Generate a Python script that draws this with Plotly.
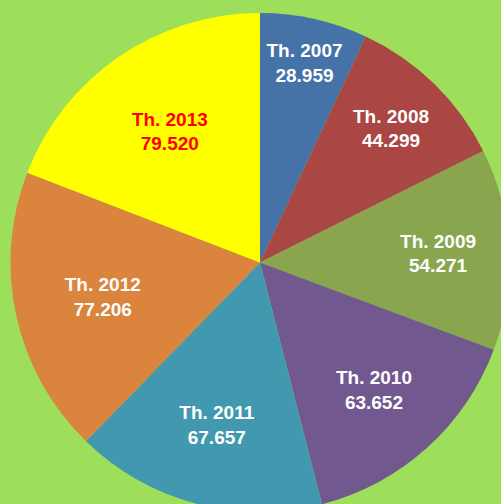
import plotly.graph_objects as go

years = ["Th. 2007", "Th. 2008", "Th. 2009", "Th. 2010", "Th. 2011", "Th. 2012", "Th. 2013"]
values = [28.959, 44.299, 54.271, 63.652, 67.657, 77.206, 79.520]
value_labels = ["28.959", "44.299", "54.271", "63.652", "67.657", "77.206", "79.520"]
colors = ["#4572A7", "#AA4643", "#89A54E", "#71588F", "#4198AF", "#DB843D", "#FFFF00"]
label_colors = ["white", "white", "white", "white", "white", "white", "#FF0000"]

BG = "#9DDF5A"

fig = go.Figure(go.Pie(
    labels=years,
    values=values,
    text=[f"{y}<br>{v}" for y, v in zip(years, value_labels)],
    textinfo="text",
    textposition="inside",
    insidetextorientation="horizontal",
    textfont=dict(family="Liberation Sans, Arial", size=19.5, color=label_colors, weight="bold"),
    marker=dict(colors=colors, line=dict(width=0)),
    sort=False,
    direction="clockwise",
    rotation=0,
    hoverinfo="label+value",
))

fig.update_layout(
    width=510, height=512,
    margin=dict(l=10, r=0, t=13, b=0),
    paper_bgcolor=BG,
    plot_bgcolor=BG,
    showlegend=False,
    uniformtext=dict(minsize=19, mode="show"),
)

fig.write_html(
    "out.html",
    config={"displayModeBar": False},
    post_script="document.body.style.margin='0';document.body.style.background='" + BG + "';document.body.style.overflow='hidden';",
)
